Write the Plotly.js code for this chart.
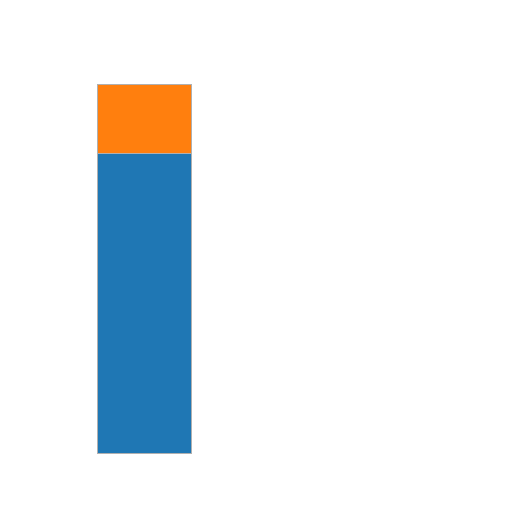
<!DOCTYPE html>
<html>
<head>
<meta charset="utf-8">
<script src="https://cdn.plot.ly/plotly-3.0.1.min.js"></script>
<style>html,body{margin:0;padding:0;background:#fff;}#chart{width:512px;height:512px;}</style>
</head>
<body>
<div id="chart"></div>
<script>
const categories = ["A"];
const seriesBottom = [44];
const seriesTop = [10];
const colors = ["#1f77b4", "#ff7f0e"];

const traces = [
  {type: "bar", x: categories, y: seriesBottom, marker: {color: colors[0], line: {color: "#b0b0b0", width: 1}}, width: 1},
  {type: "bar", x: categories, y: seriesTop, marker: {color: colors[1], line: {color: "#b0b0b0", width: 1}}, width: 1}
];

const layout = {
  width: 512, height: 512,
  margin: {l: 0, r: 0, t: 0, b: 0},
  barmode: "stack",
  showlegend: false,
  paper_bgcolor: "#fff", plot_bgcolor: "#fff",
  xaxis: {visible: false, range: [-1.532, 3.915], type: "category"},
  yaxis: {visible: false, range: [-8.657, 66.47]}
};

Plotly.newPlot("chart", traces, layout, {staticPlot: true});
</script>
</body>
</html>
